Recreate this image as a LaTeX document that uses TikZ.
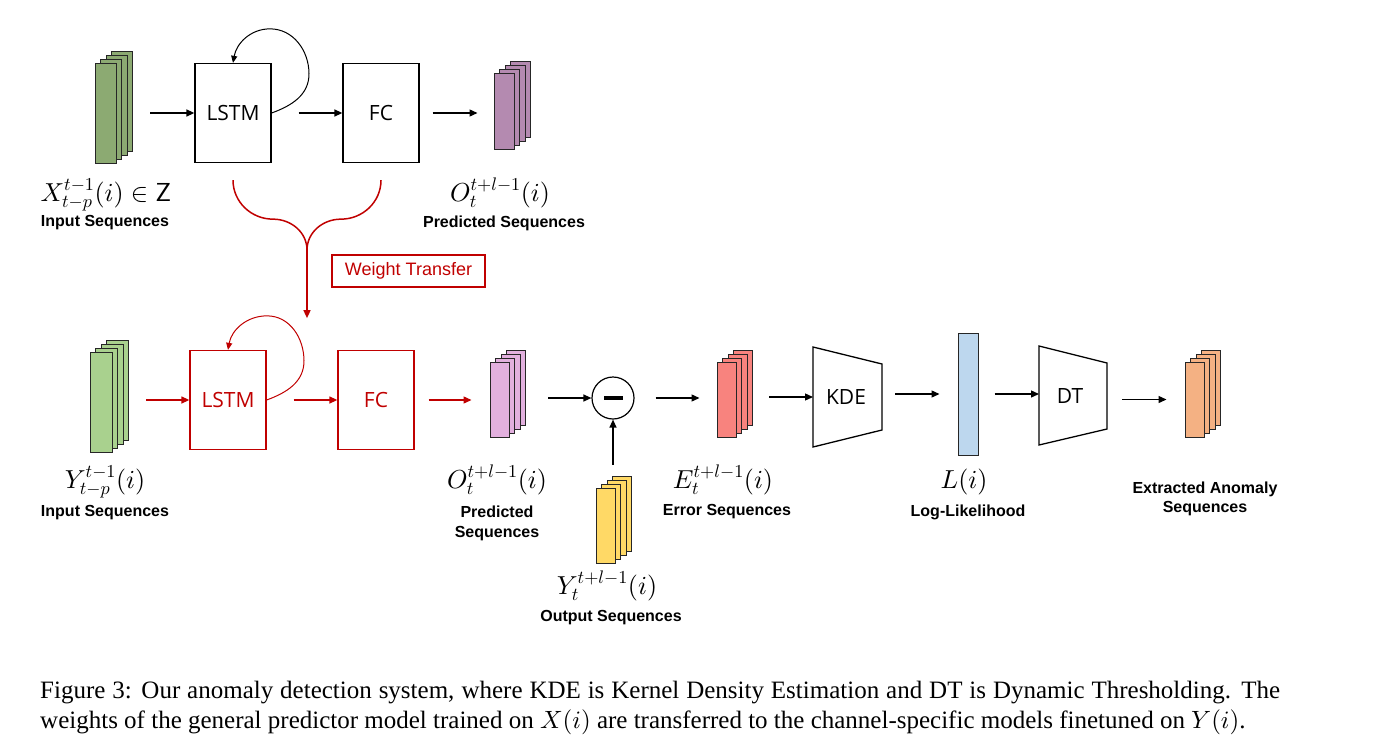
\documentclass[tikz,border=0pt]{standalone}
\usepackage[no-math]{fontspec}
\setmainfont{Liberation Serif}
\newfontfamily\boxfont{Open Sans}
\newfontfamily\labfont{Liberation Sans}
\DeclareFontShape{OT1}{cmr}{m}{n}{<->cmr10}{}
\DeclareFontShape{OML}{cmm}{m}{it}{<->cmmi10}{\skewchar\font'177}
\DeclareFontShape{OMS}{cmsy}{m}{n}{<->cmsy10}{\skewchar\font'60}
\DeclareFontShape{OMX}{cmex}{m}{n}{<->cmex10}{}
\DeclareFontShape{OT1}{cmss}{m}{n}{<->cmss10}{}
\usetikzlibrary{arrows.meta,calc}
\definecolor{wred}{HTML}{C00000}
\definecolor{ggreen}{HTML}{8CAA72}
\definecolor{lgreen}{HTML}{A9D18E}
\definecolor{mauve}{HTML}{B48AB0}
\definecolor{lpink}{HTML}{E2B0DE}
\definecolor{salmon}{HTML}{F8837E}
\definecolor{yell}{HTML}{FFD966}
\definecolor{lblue}{HTML}{BDD7EE}
\definecolor{orng}{HTML}{F4B183}
\newcommand\seqstack[6]{%
  \foreach \k in {3,2,1}{%
    \node[stk,fill=#6,minimum width=#4pt,minimum height=#5pt] (#1-\k) at ($(#2,#3)+(\k*5.5,-\k*4)$) {};}
  \node[stk,fill=#6,minimum width=#4pt,minimum height=#5pt] (#1) at (#2,#3) {};
}
\begin{document}
\begin{tikzpicture}[x=1pt,y=-1pt,
  stk/.style={draw=black!85,line width=1pt,inner sep=0pt,rectangle},
  blk/.style={draw=black,line width=1.3pt,inner sep=0pt,minimum width=76pt,minimum height=99pt,font=\boxfont\fontsize{21}{24}\selectfont},
  rblk/.style={blk,draw=wred,text=wred},
  arr/.style={-{Triangle[length=8pt,width=7pt]},line width=1.3pt},
  rarr/.style={arr,color=wred},
  loopar/.style={-{Triangle[length=7pt,width=6pt]},line width=1pt},
  lab/.style={font=\labfont\bfseries\fontsize{16}{19}\selectfont,align=center,inner sep=0pt},
  mlab/.style={font=\fontsize{26}{30}\selectfont,inner sep=0pt,anchor=base},
  trap/.style={line width=1.3pt},
  captext/.style={anchor=west,inner sep=0pt,font=\fontsize{25}{29}\selectfont}
]
\useasboundingbox (0,0) rectangle (1376,744);

% ---------- top row ----------
\seqstack{xin}{105.5}{113}{21}{100}{ggreen}
\node[blk] (lstm) at (233,113) {LSTM};
\node[blk] (fc) at (381,113) {FC};
\seqstack{opred}{504}{111}{20}{76}{mauve}

\draw[arr] ([xshift=17pt]xin-3.east |- lstm.west) -- (lstm.west);
\draw[arr] ([xshift=27pt]lstm.east) -- (fc.west);
\draw[arr] ([xshift=13pt]fc.east) -- ([xshift=-16pt]opred.west |- fc.east);
\draw[loopar] (lstm.east) to[out=20,in=-90] ($(lstm.north)+(76,11)$)
  to[out=90,in=0] ($(lstm.north)+(37,-34)$) to[out=180,in=80] (lstm.north);

\node[mlab] (lx) at (106,201) {$X_{t-p}^{t-1}(i)\in\mathsf{Z}$};
\node[lab] (lxs) at (105,223) {Input Sequences};
\node[mlab] (lo) at (500,201) {$O_t^{t+l-1}(i)$};
\node[lab] (los) at (504,223) {Predicted Sequences};

% ---------- weight transfer ----------
\coordinate (bl) at ($(lstm.south)+(0,17)$);
\coordinate (br) at ($(fc.south)+(0,17)$);
\coordinate (bm) at ($(bl)!0.5!(br)+(0,70)$);
\coordinate (wtip) at ($(bm)+(0,68)$);
\draw[wred,line width=1.5pt] (bl) to[out=-90,in=180] ($(bl)!0.5!(bm)+(3,4)$) to[out=0,in=90] (bm);
\draw[wred,line width=1.5pt] (br) to[out=-90,in=0] ($(br)!0.5!(bm)+(-3,4)$) to[out=180,in=90] (bm);
\draw[rarr,line width=1.5pt] (bm) -- (wtip);
\node[draw=wred,text=wred,line width=1.3pt,minimum width=153pt,minimum height=32pt,inner sep=0pt,
  font=\labfont\fontsize{18}{20}\selectfont] (wt) at (408.5,271) {Weight Transfer};

% ---------- bottom row ----------
\seqstack{yin}{101}{402}{22}{100}{lgreen}
\node[rblk] (lstm2) at (228,400) {LSTM};
\node[rblk] (fc2) at (376,400) {FC};
\seqstack{opred2}{499.5}{399.5}{19}{75}{lpink}
\node[circle,draw,line width=1.2pt,minimum size=42pt,inner sep=0pt] (minus) at (613,398) {};
\fill (minus.center) +(-9.5,-2.2) rectangle +(9.5,2.2);
\seqstack{yout}{605.5}{525.5}{19}{75}{yell}
\seqstack{err}{726.5}{399.5}{19}{75}{salmon}

\coordinate (kde-a) at (813,347);
\coordinate (kde-b) at (882,364);
\coordinate (kde-c) at (882,430);
\coordinate (kde-d) at (813,447);
\draw[trap] (kde-a) -- (kde-b) -- (kde-c) -- (kde-d) -- cycle;
\node[font=\boxfont\fontsize{21}{24}\selectfont,inner sep=0pt] (kde) at (846,397) {KDE};

\node[stk,fill=lblue,minimum width=20pt,minimum height=122pt] (llh) at (968,394) {};

\coordinate (dt-a) at (1039,346);
\coordinate (dt-b) at (1107,363);
\coordinate (dt-c) at (1107,429);
\coordinate (dt-d) at (1039,445);
\draw[trap] (dt-a) -- (dt-b) -- (dt-c) -- (dt-d) -- cycle;
\node[font=\boxfont\fontsize{21}{24}\selectfont,inner sep=0pt] (dt) at (1070,396) {DT};

\seqstack{anom}{1194.5}{399.5}{19}{75}{orng}

\draw[rarr] ([xshift=17pt]yin-3.east |- lstm2.west) -- (lstm2.west);
\draw[rarr] ([xshift=27pt]lstm2.east) -- (fc2.west);
\draw[rarr] ([xshift=14pt]fc2.east) -- ([xshift=-18pt]opred2.west |- fc2.east);
\draw[loopar,wred] (lstm2.east) to[out=20,in=-90] ($(lstm2.north)+(76,11)$)
  to[out=90,in=0] ($(lstm2.north)+(39,-34)$) to[out=180,in=80] (lstm2.north);
\draw[arr] ([xshift=22pt]opred2-3.east |- minus.west) -- (minus.west);
\draw[arr] ([yshift=11pt]yout-3.north -| minus.south) -- (minus.south);
\draw[arr] ([xshift=21pt]minus.east) -- ([xshift=-17pt]err.west |- minus.east);
\draw[arr] ([xshift=16pt]err-3.east |- kde) -- (kde-a |- kde);
\draw[arr] ([xshift=13pt]kde-b |- llh) -- ([xshift=-18pt]llh.west);
\draw[arr] ([xshift=16pt]llh.east) -- (dt-a |- llh);
\draw[arr] ([xshift=15pt]dt-b |- anom) -- ([xshift=-18pt]anom.west);

\node[mlab] (ly) at (105,488) {$Y_{t-p}^{t-1}(i)$};
\node[lab] (lys) at (105,513) {Input Sequences};
\node[mlab] (lo2) at (497,488) {$O_t^{t+l-1}(i)$};
\node[lab] (lo2s) at (497,523) {Predicted\\[1pt]Sequences};
\node[mlab] (lyo) at (607,594) {$Y_t^{t+l-1}(i)$};
\node[lab] (lyos) at (611,618) {Output Sequences};
\node[mlab] (le) at (723,488) {$E_t^{t+l-1}(i)$};
\node[lab] (les) at (727,512) {Error Sequences};
\node[mlab] (ll) at (964,488) {$L(i)$};
\node[lab] (lls) at (968,512) {Log-Likelihood};
\node[lab] (las) at (1205,499) {Extracted Anomaly\\Sequences};

% ---------- caption ----------
\node[captext] (cap1) at (40,693) {\makebox[1240pt][s]{Figure 3: Our anomaly detection system, where KDE is Kernel Density Estimation and DT is Dynamic Thresholding. The}};
\node[captext] (cap2) at (40,722) {weights of the general predictor model trained on $X(i)$ are transferred to the channel-specific models finetuned on $Y(i)$.};
\end{tikzpicture}
\end{document}
